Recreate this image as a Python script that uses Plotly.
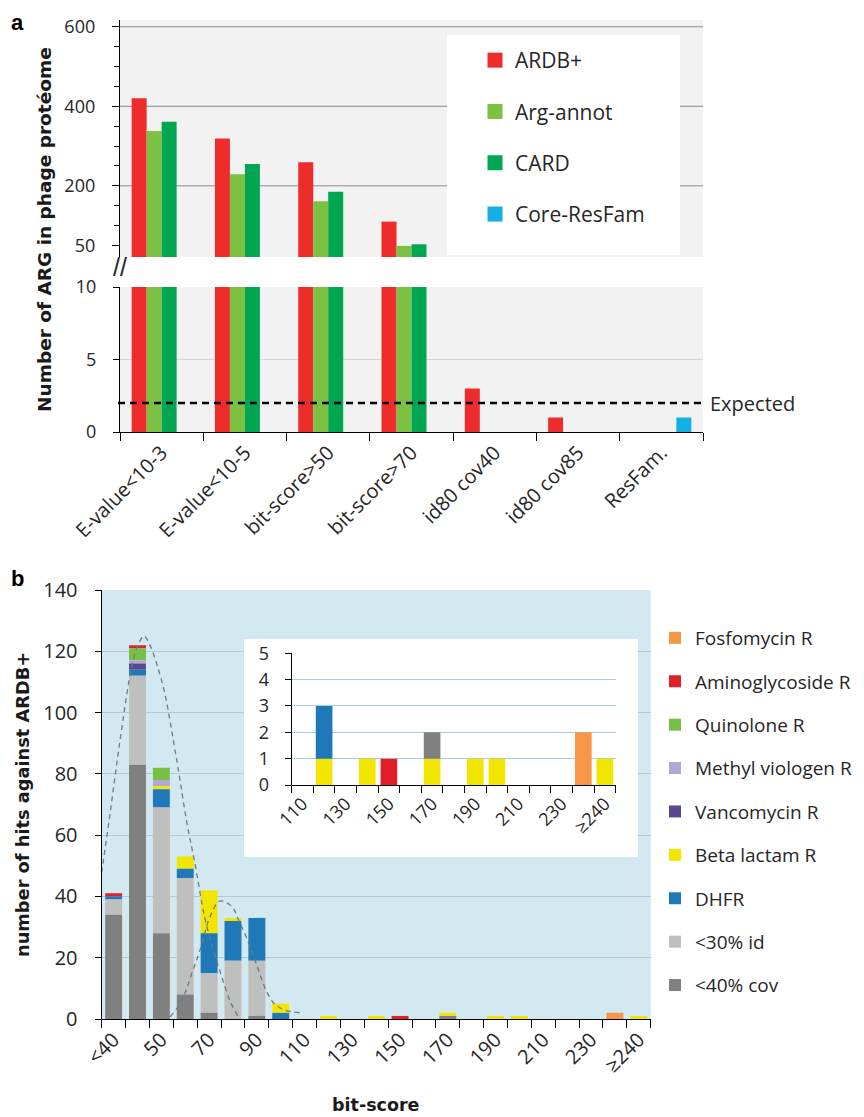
import plotly.graph_objects as go

W, H = 864, 1117

# ---------------- panel a data ----------------
a_categories = ["E-value<10-3", "E-value<10-5", "bit-score>50", "bit-score>70",
                "id80 cov40", "id80 cov85", "ResFam."]
a_ardb = [420, 319, 259, 110, 3, 1, 0]
a_argannot = [338, 229, 161, 49, 0, 0, 0]
a_card = [361, 255, 185, 53, 0, 0, 0]
a_coreresfam = [0, 0, 0, 0, 0, 0, 1]
a_names = ["ARDB+", "Arg-annot", "CARD", "Core-ResFam"]
a_colors = ["#ee2c2c", "#7cc142", "#00a651", "#12b0e4"]
a_expected = 2
a_top_tickvals = [50, 200, 400, 600]
a_top_minor_step = 50
a_top_gridvals = [200, 400, 600]
a_top_range = [21, 617]
a_bottom_range = [0, 10]
a_bottom_tickvals = [0, 5, 10]

# ---------------- panel b data ----------------
b_categories = ["<40", "40", "50", "60", "70", "80", "90", "100", "110", "120", "130",
                "140", "150", "160", "170", "180", "190", "200", "210", "220", "230",
                "240", "≥240"]
b_shown = ["<40", "50", "70", "90", "110", "130", "150", "170", "190", "210", "230", "≥240"]
b_cov =    [34, 83, 28, 8, 2, 0, 1, 0, 0, 0, 0, 0, 0, 0, 1, 0, 0, 0, 0, 0, 0, 0, 0]
b_id =     [5, 29, 41, 38, 13, 19, 18, 0, 0, 0, 0, 0, 0, 0, 0, 0, 0, 0, 0, 0, 0, 0, 0]
b_dhfr =   [1, 2, 6, 3, 13, 13, 14, 2, 0, 0, 0, 0, 0, 0, 0, 0, 0, 0, 0, 0, 0, 0, 0]
b_beta =   [0, 0, 1, 4, 14, 1, 0, 3, 0, 1, 0, 1, 0, 0, 1, 0, 1, 1, 0, 0, 0, 0, 1]
b_vanco =  [0, 2, 0, 0, 0, 0, 0, 0, 0, 0, 0, 0, 0, 0, 0, 0, 0, 0, 0, 0, 0, 0, 0]
b_methyl = [0, 1, 2, 0, 0, 0, 0, 0, 0, 0, 0, 0, 0, 0, 0, 0, 0, 0, 0, 0, 0, 0, 0]
b_quin =   [0, 4, 4, 0, 0, 0, 0, 0, 0, 0, 0, 0, 0, 0, 0, 0, 0, 0, 0, 0, 0, 0, 0]
b_amino =  [1, 1, 0, 0, 0, 0, 0, 0, 0, 0, 0, 0, 1, 0, 0, 0, 0, 0, 0, 0, 0, 0, 0]
b_fosfo =  [0, 0, 0, 0, 0, 0, 0, 0, 0, 0, 0, 0, 0, 0, 0, 0, 0, 0, 0, 0, 0, 2, 0]
b_y_range = [0, 140]
b_y_dtick = 20

# dashed fitted curves: points (x = category position)
curve1_x = [-0.62, -0.5, -0.15, 0.27, 0.76, 1.02, 1.27, 1.52, 1.80, 2.15, 2.50, 2.78,
            3.07, 3.40, 3.82, 4.20, 4.52, 4.87, 5.20]
curve1_y = [42, 48, 67, 91, 115, 122, 125, 122, 116, 106, 91, 78, 64, 51, 33, 22, 14, 6, 1]
curve2_x = [2.36, 2.69, 2.99, 3.28, 3.62, 4.04, 4.45, 4.95, 5.25, 5.55, 5.97, 6.38,
            6.73, 7.15, 7.80]
curve2_y = [0.7, 4, 8.5, 15, 22.5, 33.4, 38.5, 36.7, 32, 26.9, 18.2, 9.5, 5, 3, 2]

# inset data
i_categories = ["110", "120", "130", "140", "150", "160", "170", "180", "190", "200",
                "210", "220", "230", "240", "≥240"]
i_shown = ["110", "130", "150", "170", "190", "210", "230", "≥240"]
i_beta =  [0, 1, 0, 1, 0, 0, 1, 0, 1, 1, 0, 0, 0, 0, 1]
i_dhfr =  [0, 2, 0, 0, 0, 0, 0, 0, 0, 0, 0, 0, 0, 0, 0]
i_cov =   [0, 0, 0, 0, 0, 0, 1, 0, 0, 0, 0, 0, 0, 0, 0]
i_amino = [0, 0, 0, 0, 1, 0, 0, 0, 0, 0, 0, 0, 0, 0, 0]
i_fosfo = [0, 0, 0, 0, 0, 0, 0, 0, 0, 0, 0, 0, 0, 2, 0]
i_y_range = [0, 5]

C = dict(fosfo="#f79646", amino="#e11f28", quin="#77c046", methyl="#b5a7d5",
         vanco="#5d478f", beta="#f2e600", dhfr="#1f78b8", id="#bfbfbf", cov="#808080")
BLUE_BG = "#d3e9f2"
BLUE_GRID = "#a9cce0"

# ---------------- geometry (pixels -> paper) ----------------
def fx(px):
    return px / W

def fy(py):
    return 1 - py / H

A_X = [fx(120), fx(703)]
A_TOP_Y = [fy(257), fy(20)]
A_BOT_Y = [fy(432), fy(287)]
B_X = [fx(101.7), fx(650.7)]
B_Y = [fy(1019), fy(590)]
BOX_X = [fx(244), fx(638)]
BOX_Y = [fy(857), fy(639)]
I_X = [fx(291.7), fx(615.7)]
I_Y = [fy(785), fy(653.3)]

fig = go.Figure()

# ---- panel a bars (top and bottom of the broken axis) ----
a_values = [a_ardb, a_argannot, a_card, a_coreresfam]
for name, vals, col in zip(a_names, a_values, a_colors):
    fig.add_trace(go.Bar(x=a_categories, y=vals, name=name, marker=dict(color=col, line=dict(width=0)),
                         xaxis="x", yaxis="y", legendgroup=name, showlegend=False))
    # legend entry with a larger square swatch
    fig.add_trace(go.Scatter(x=[None], y=[None], mode="markers", name=name,
                             marker=dict(symbol="square", size=15, color=col),
                             xaxis="x", yaxis="y", legend="legend", legendgroup=name,
                             showlegend=True, hoverinfo="skip"))
for name, vals, col in zip(a_names, a_values, a_colors):
    fig.add_trace(go.Bar(x=a_categories, y=vals, name=name, marker=dict(color=col, line=dict(width=0)),
                         xaxis="x2", yaxis="y2", legendgroup=name, showlegend=False))

# ---- panel b stacked bars ----
b_layers = [("<40% cov", b_cov, C["cov"]), ("<30% id", b_id, C["id"]), ("DHFR", b_dhfr, C["dhfr"]),
            ("Beta lactam R", b_beta, C["beta"]), ("Vancomycin R", b_vanco, C["vanco"]),
            ("Methyl viologen R", b_methyl, C["methyl"]), ("Quinolone R", b_quin, C["quin"]),
            ("Aminoglycoside R", b_amino, C["amino"]), ("Fosfomycin R", b_fosfo, C["fosfo"])]
bases = []
run = [0] * len(b_categories)
for name, vals, col in b_layers:
    bases.append(list(run))
    run = [r + v for r, v in zip(run, vals)]
# add top-of-stack first so the legend lists it first (bars do not overlap)
for (name, vals, col), base in reversed(list(zip(b_layers, bases))):
    fig.add_trace(go.Bar(x=b_categories, y=vals, base=base, name=name, width=0.71,
                         offsetgroup="b", marker=dict(color=col, line=dict(width=0)),
                         xaxis="x3", yaxis="y3", legend="legend2", legendgroup="b_" + name))

# ---- dashed curves ----
for cx, cy in [(curve1_x, curve1_y), (curve2_x, curve2_y)]:
    fig.add_trace(go.Scatter(x=cx, y=cy, mode="lines",
                             line=dict(color="#6f7a82", width=1.3, dash="5px,4px",
                                       shape="spline", smoothing=1.0),
                             xaxis="x6", yaxis="y3", showlegend=False, hoverinfo="skip"))

# ---- white box behind the inset (empty overlapping subplot with white background) ----
fig.add_trace(go.Scatter(x=[None], y=[None], xaxis="x4", yaxis="y4", showlegend=False,
                         hoverinfo="skip", mode="markers"))

# ---- inset stacked bars ----
i_layers = [(i_beta, C["beta"]), (i_dhfr, C["dhfr"]), (i_cov, C["cov"]),
            (i_amino, C["amino"]), (i_fosfo, C["fosfo"])]
run = [0] * len(i_categories)
for vals, col in i_layers:
    fig.add_trace(go.Bar(x=i_categories, y=vals, base=list(run), width=0.77, offsetgroup="i",
                         marker=dict(color=col, line=dict(width=0)),
                         xaxis="x5", yaxis="y5", showlegend=False))
    run = [r + v for r, v in zip(run, vals)]

TXT = "#262626"
axis_common = dict(showline=True, linecolor="black", linewidth=1.3, ticks="outside",
                   tickcolor="black", tickwidth=1.3, zeroline=False, automargin=False)

shapes = [
    dict(type="rect", xref="x domain", yref="y domain", x0=0, x1=1, y0=0, y1=1,
         fillcolor="#f2f2f2", line=dict(width=0), layer="below"),
    dict(type="rect", xref="x2 domain", yref="y2 domain", x0=0, x1=1, y0=0, y1=1,
         fillcolor="#f2f2f2", line=dict(width=0), layer="below"),
    dict(type="rect", xref="x3 domain", yref="y3 domain", x0=0, x1=1, y0=0, y1=1,
         fillcolor=BLUE_BG, line=dict(width=0), layer="below"),
    dict(type="rect", xref="x5 domain", yref="y5 domain", x0=0, x1=1, y0=0, y1=1,
         fillcolor=BLUE_BG, line=dict(width=0), layer="below"),
]
for g in a_top_gridvals:
    shapes.append(dict(type="line", xref="x domain", yref="y", x0=0, x1=1, y0=g, y1=g,
                       line=dict(color="#8c8c8c", width=1), layer="below"))
# white legend box of panel a
shapes.append(dict(type="rect", xref="x domain", yref="y domain",
                   x0=(447 - 120) / 583, x1=(680 - 120) / 583,
                   y0=(257 - 255) / 237, y1=(257 - 35) / 237,
                   fillcolor="white", line=dict(width=0), layer="below"))
# expected line
shapes.append(dict(type="line", xref="x2 domain", yref="y2", x0=-2 / 583, x1=1 + 2 / 583,
                   y0=a_expected, y1=a_expected,
                   line=dict(color="black", width=2.6, dash="7px,5px"), layer="above"))

def title_font(size):
    return dict(family="DejaVu Sans", size=size, color="#1a1a1a")

annotations = [
    dict(text="<b>a</b>", x=fx(9), y=fy(22), xref="paper", yref="paper", showarrow=False,
         xanchor="left", yanchor="middle", font=dict(family="Liberation Sans", size=22, color="black")),
    dict(text="<b>b</b>", x=fx(9), y=fy(578), xref="paper", yref="paper", showarrow=False,
         xanchor="left", yanchor="middle", font=dict(family="Liberation Sans", size=22, color="black")),
    dict(text="<b>Number of ARG in phage protéome</b>", x=fx(44), y=fy(230), xref="paper", yref="paper",
         showarrow=False, textangle=-90, xanchor="center", yanchor="middle", font=title_font(18.5)),
    dict(text="<b>number of hits against ARDB+</b>", x=fx(22), y=fy(805), xref="paper", yref="paper",
         showarrow=False, textangle=-90, xanchor="center", yanchor="middle", font=title_font(17.8)),
    dict(text="<b>bit-score</b>", x=fx(376), y=fy(1105), xref="paper", yref="paper",
         showarrow=False, xanchor="center", yanchor="middle", font=title_font(17.5)),
    dict(text="Expected", x=fx(708), y=a_expected, xref="paper", yref="y2", showarrow=False,
         xanchor="left", yanchor="middle", font=dict(family="Open Sans", size=20, color=TXT)),
    dict(text="//", x=fx(120), y=fy(267), xref="paper", yref="paper", showarrow=False,
         xanchor="center", yanchor="middle", font=dict(family="Liberation Sans", size=25, color=TXT)),
]

fig.update_layout(
    width=W, height=H, margin=dict(l=0, r=0, t=0, b=0, pad=0, autoexpand=False),
    paper_bgcolor="white", plot_bgcolor="white",
    barmode="group", bargap=0.28, bargroupgap=0,
    font=dict(family="Open Sans", size=17, color=TXT),
    shapes=shapes, annotations=annotations,
    xaxis=dict(domain=A_X, anchor="y", matches="x2", type="category",
               categoryorder="array", categoryarray=a_categories,
               showticklabels=False, ticks="", showline=False, showgrid=False),
    yaxis=dict(domain=A_TOP_Y, anchor="x", range=a_top_range, tickmode="array",
               tickvals=a_top_tickvals, ticklen=7, showgrid=False, ticklabelstandoff=13,
               tickfont=dict(family="Open Sans", size=18, color=TXT),
               minor=dict(dtick=a_top_minor_step, tick0=0, ticks="outside", ticklen=5,
                          tickcolor="black", tickwidth=1.2, showgrid=False),
               **axis_common),
    xaxis2=dict(domain=A_X, anchor="y2", type="category", categoryorder="array",
                categoryarray=a_categories, tickson="boundaries", ticklen=8, tickangle=-45,
                showgrid=False, tickfont=dict(family="Open Sans", size=20, color=TXT), **axis_common),
    yaxis2=dict(domain=A_BOT_Y, anchor="x2", range=a_bottom_range, tickmode="array",
                tickvals=a_bottom_tickvals, ticklen=6, showgrid=True, gridcolor="#d6d6d6",
                ticklabelstandoff=13, tickfont=dict(family="Open Sans", size=18, color=TXT),
                **axis_common),
    xaxis3=dict(domain=B_X, anchor="y3", type="category", categoryorder="array",
                categoryarray=b_categories, tickmode="array", tickvals=b_categories,
                ticktext=[c if c in b_shown else "" for c in b_categories],
                range=[-0.5, len(b_categories) - 0.5], tickson="boundaries", ticklen=8,
                tickangle=-45, showgrid=False,
                tickfont=dict(family="Open Sans", size=20, color=TXT), **axis_common),
    yaxis3=dict(domain=B_Y, anchor="x3", range=b_y_range, dtick=b_y_dtick, ticklen=6,
                showgrid=True, gridcolor=BLUE_GRID, gridwidth=1, ticklabelstandoff=13,
                tickfont=dict(family="Open Sans", size=20, color=TXT), **axis_common),
    xaxis4=dict(domain=BOX_X, anchor="y4", visible=False, range=[0, 1], fixedrange=True),
    yaxis4=dict(domain=BOX_Y, anchor="x4", visible=False, range=[0, 1], fixedrange=True),
    xaxis5=dict(domain=I_X, anchor="y5", type="category", categoryorder="array",
                categoryarray=i_categories, tickmode="array", tickvals=i_categories,
                ticktext=[c if c in i_shown else "" for c in i_categories],
                range=[-0.5, len(i_categories) - 0.5], tickson="boundaries", ticklen=7,
                tickangle=-45, showgrid=False,
                tickfont=dict(family="Open Sans", size=18, color=TXT), **axis_common),
    yaxis5=dict(domain=I_Y, anchor="x5", range=i_y_range, dtick=1, ticklen=6,
                showgrid=True, gridcolor=BLUE_GRID, ticklabelstandoff=12,
                tickfont=dict(family="Open Sans", size=18, color=TXT), **axis_common),
    xaxis6=dict(overlaying="x3", anchor="y3", range=[-0.5, len(b_categories) - 0.5],
                visible=False, showgrid=False),
    legend=dict(x=fx(475), y=fy(40), xanchor="left", yanchor="top", bgcolor="rgba(0,0,0,0)",
                font=dict(family="Open Sans", size=21, color=TXT),
                traceorder="grouped", tracegroupgap=21, itemwidth=30),
    legend2=dict(x=fx(655), y=fy(619), xanchor="left", yanchor="top", bgcolor="rgba(0,0,0,0)",
                 font=dict(family="Open Sans", size=19, color=TXT),
                 traceorder="grouped", tracegroupgap=15.7, itemwidth=30),
)

fig.write_html("out.html", config={"displayModeBar": False},
               post_script="document.body.style.margin='0px';")
